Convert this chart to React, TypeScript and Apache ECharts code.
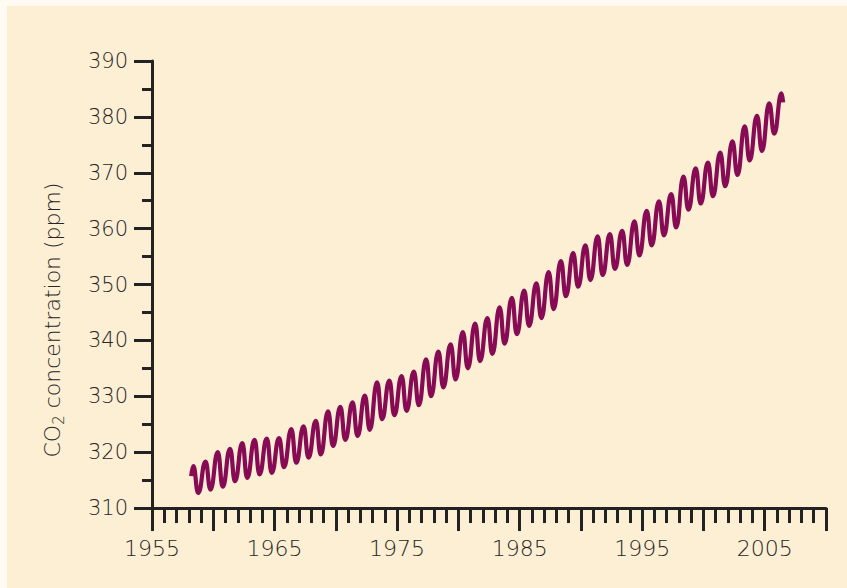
import React, { useEffect, useRef } from "react";
import * as echarts from "echarts";

// Mauna Loa monthly CO2 record, summarised by each year's spring maximum
// (around May) and autumn minimum (around late September / October).
const years = [
  1958, 1959, 1960, 1961, 1962, 1963, 1964, 1965, 1966, 1967,
  1968, 1969, 1970, 1971, 1972, 1973, 1974, 1975, 1976, 1977,
  1978, 1979, 1980, 1981, 1982, 1983, 1984, 1985, 1986, 1987,
  1988, 1989, 1990, 1991, 1992, 1993, 1994, 1995, 1996, 1997,
  1998, 1999, 2000, 2001, 2002, 2003, 2004, 2005, 2006,
];

const springPeaks = [
  317.5, 318.3, 320.0, 320.6, 321.6, 322.2, 322.4, 322.5, 324.1, 324.6,
  325.6, 327.3, 328.1, 328.9, 330.1, 332.5, 332.8, 333.6, 334.4, 336.6,
  338.0, 339.3, 341.5, 343.0, 344.0, 345.9, 347.6, 348.9, 350.2, 352.2,
  354.2, 355.6, 357.0, 358.6, 359.0, 359.6, 361.3, 363.2, 364.9, 366.2,
  369.3, 370.8, 371.8, 373.6, 375.6, 378.3, 380.2, 382.4, 384.2,
];

const autumnLows = [
  312.7, 313.3, 313.8, 314.8, 315.4, 316.0, 316.3, 317.3, 318.1, 319.0,
  319.6, 321.1, 322.2, 322.9, 324.0, 325.9, 326.6, 327.4, 328.4, 330.0,
  331.6, 333.0, 335.0, 336.3, 337.6, 339.4, 341.1, 342.6, 344.0, 345.6,
  347.9, 349.6, 350.8, 351.7, 352.8, 353.5, 355.2, 357.0, 358.8, 360.2,
  363.4, 364.5, 365.8, 367.6, 369.6, 372.2, 373.9, 377.0,
];

// first and last readings of the record
const firstReading: [number, number] = [1958.2, 315.7];
const lastReading: [number, number] = [2006.5, 382.6];

const xTickLabels = ["1955", "1965", "1975", "1985", "1995", "2005"];

const PEAK_PHASE = 0.37;
const LOW_PHASE = 0.77;

function buildSeries(): [number, number][] {
  const pts: [number, number][] = [firstReading];
  years.forEach((y, i) => {
    pts.push([y + PEAK_PHASE, springPeaks[i]]);
    if (i < autumnLows.length) pts.push([y + LOW_PHASE, autumnLows[i]]);
  });
  pts.push(lastReading);
  return pts;
}

const FONT = "'DejaVu Sans', sans-serif";
const WEIGHT = 200;
const INK = "#222222";
const TEXT = "#262626";

export default function App() {
  const ref = useRef<HTMLDivElement>(null);

  useEffect(() => {
    document.body.style.margin = "0";
    if (!ref.current) return;
    const chart = echarts.init(ref.current, undefined, { renderer: "svg" });
    chart.setOption({
      animation: false,
      backgroundColor: "#fdefd4",
      grid: { left: 145, top: 55, right: 21, bottom: 80 },
      graphic: [
        {
          type: "text",
          x: 45,
          y: 314,
          rotation: Math.PI / 2,
          style: {
            text: "{t|CO}{s|2}{t| concentration (ppm)}",
            align: "center",
            verticalAlign: "middle",
            rich: {
              t: { fontFamily: FONT, fontWeight: WEIGHT, fontSize: 22, fill: TEXT, lineHeight: 28 },
              s: {
                fontFamily: FONT,
                fontWeight: WEIGHT,
                fontSize: 15,
                fill: TEXT,
                lineHeight: 28,
                verticalAlign: "bottom",
                padding: [11, 0, 0, 0],
              },
            },
          },
        },
      ],
      xAxis: {
        type: "value",
        min: 1955,
        max: 2010,
        interval: 5,
        axisLine: { show: true, onZero: false, lineStyle: { color: INK, width: 3 } },
        axisTick: { show: true, length: 23, lineStyle: { color: INK, width: 3 } },
        minorTick: { show: true, splitNumber: 5, length: 15, lineStyle: { color: INK, width: 3 } },
        splitLine: { show: false },
        axisLabel: {
          margin: 29,
          fontFamily: FONT,
          fontWeight: WEIGHT,
          fontSize: 22,
          color: TEXT,
          formatter: (v: number) => (xTickLabels.includes(String(v)) ? String(v) : ""),
        },
      },
      yAxis: {
        type: "value",
        min: 310,
        max: 390,
        interval: 10,
        axisLine: { show: true, lineStyle: { color: INK, width: 3 } },
        axisTick: { show: true, length: 18, lineStyle: { color: INK, width: 3 } },
        minorTick: { show: true, splitNumber: 2, length: 10, lineStyle: { color: INK, width: 3 } },
        splitLine: { show: false },
        axisLabel: {
          margin: 24,
          fontFamily: FONT,
          fontWeight: WEIGHT,
          fontSize: 21,
          color: TEXT,
        },
      },
      series: [
        {
          type: "line",
          data: buildSeries(),
          smooth: 0.5,
          smoothMonotone: "x",
          showSymbol: false,
          lineStyle: { color: "#870a55", width: 4.2 },
          clip: false,
        },
      ],
    });
    return () => chart.dispose();
  }, []);

  return (
    <div style={{ width: 847, height: 588, background: "#fffaf2", position: "relative" }}>
      <div
        ref={ref}
        style={{ position: "absolute", left: 7, top: 6, width: 840, height: 582 }}
      />
    </div>
  );
}
